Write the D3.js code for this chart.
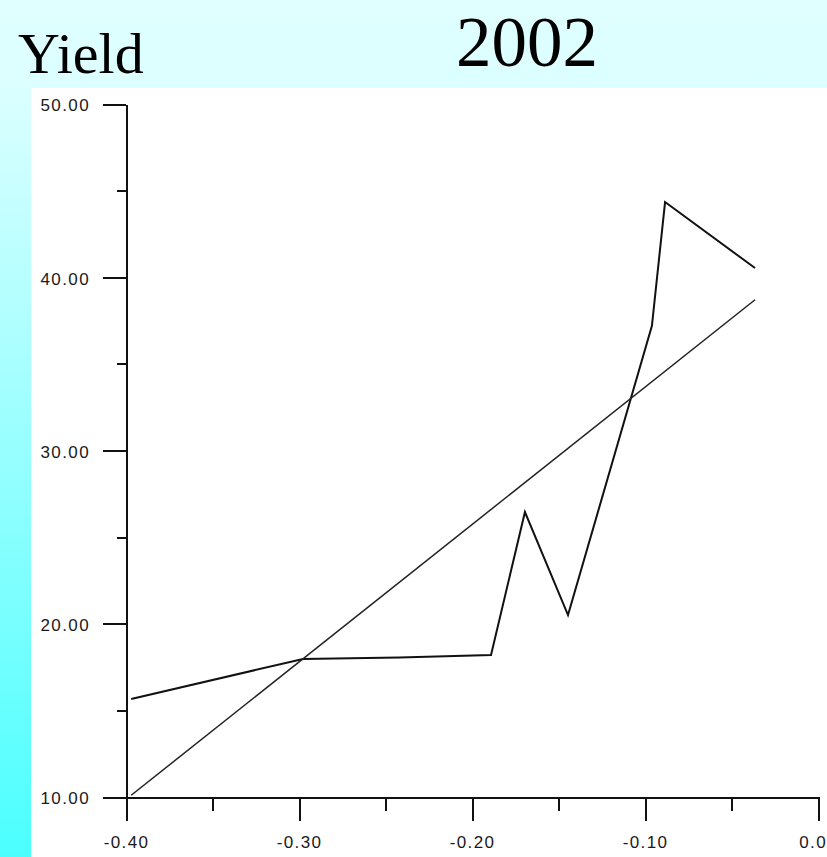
<!DOCTYPE html>
<html>
<head>
<meta charset="utf-8">
<script src="https://cdn.jsdelivr.net/npm/d3@7"></script>
<style>
  body { margin: 0; overflow: hidden; }
  svg { display: block; }
  .tick text { font-family: "Liberation Sans", Arial, sans-serif; font-size: 17px; letter-spacing: 1.4px; fill: #1a1a1a; }
</style>
</head>
<body>
<svg width="827" height="857"></svg>
<script>
// values
const priceX = [-0.397, -0.2977, -0.242, -0.189, -0.1694, -0.1445, -0.096, -0.0884, -0.0364];
const yieldY = [15.66, 17.97, 18.05, 18.2, 26.45, 20.5, 37.2, 44.34, 40.53];
const fitX = [-0.397, -0.0364];
const fitY = [10.1, 38.7];
const xMajor = [-0.4, -0.3, -0.2, -0.1, 0.0];
const xMinor = [-0.35, -0.25, -0.15, -0.05];
const yMajor = [10, 20, 30, 40, 50];
const yMinor = [15, 25, 35, 45];

function createChart() {
  const svg = d3.select('svg');

  const grad = svg.append('defs')
      .append('linearGradient')
      .attr('id', 'bg')
      .attr('x1', 0).attr('y1', 0).attr('x2', 0).attr('y2', 1);
  grad.append('stop').attr('offset', 0).attr('stop-color', '#e0ffff');
  grad.append('stop').attr('offset', 0.1).attr('stop-color', '#dcffff');
  grad.append('stop').attr('offset', 1).attr('stop-color', '#4cffff');

  svg.append('rect')
      .attr('width', 827).attr('height', 857)
      .attr('fill', 'url(#bg)');
  svg.append('rect')
      .attr('x', 31).attr('y', 88)
      .attr('width', 796).attr('height', 769)
      .attr('fill', '#fff');

  svg.append('text')
      .attr('x', 18).attr('y', 73)
      .style('font-family', '"Liberation Serif", "Times New Roman", serif')
      .style('font-size', '58px')
      .text('Yield');
  svg.append('text')
      .attr('x', 456).attr('y', 66)
      .style('font-family', '"Liberation Serif", "Times New Roman", serif')
      .style('font-size', '71px')
      .text('2002');

  const x = d3.scaleLinear().domain([-0.4, 0]).range([126, 818]);
  const y = d3.scaleLinear().domain([10, 50]).range([797, 104]);
  // plain hyphen for the minus sign, as in the picture
  const fmt = v => d3.format('.2f')(v).replace('\u2212', '-');

  // minor ticks first, then major on top
  svg.append('g')
      .attr('transform', 'translate(126,0)')
      .call(d3.axisLeft(y).tickValues(yMinor).tickSize(9).tickFormat(''))
      .call(g => g.select('.domain').remove());
  svg.append('g')
      .attr('transform', 'translate(0,797)')
      .call(d3.axisBottom(x).tickValues(xMinor).tickSize(14).tickFormat(''))
      .call(g => g.select('.domain').remove());

  const yAxis = svg.append('g')
      .attr('transform', 'translate(126,0)')
      .call(d3.axisLeft(y).tickValues(yMajor).tickSize(23).tickSizeOuter(0)
          .tickPadding(13).tickFormat(fmt));
  yAxis.selectAll('.tick text').attr('dy', '0.4em');

  const xAxis = svg.append('g')
      .attr('transform', 'translate(0,797)')
      .call(d3.axisBottom(x).tickValues(xMajor).tickSize(24).tickSizeOuter(0)
          .tickFormat(fmt));
  xAxis.selectAll('.tick text').attr('y', 51).attr('dy', 0);

  svg.selectAll('.domain, .tick line')
      .attr('stroke', '#111')
      .attr('stroke-width', 2)
      .attr('shape-rendering', 'crispEdges');

  const line = d3.line()
      .x(d => x(d[0]))
      .y(d => y(d[1]));

  svg.append('path')
      .datum(d3.zip(priceX, yieldY))
      .attr('d', line)
      .attr('fill', 'none')
      .attr('stroke', '#111')
      .attr('stroke-width', 2);

  svg.append('path')
      .datum(d3.zip(fitX, fitY))
      .attr('d', line)
      .attr('fill', 'none')
      .attr('stroke', '#222')
      .attr('stroke-width', 1.5);
}

createChart();
</script>
</body>
</html>
